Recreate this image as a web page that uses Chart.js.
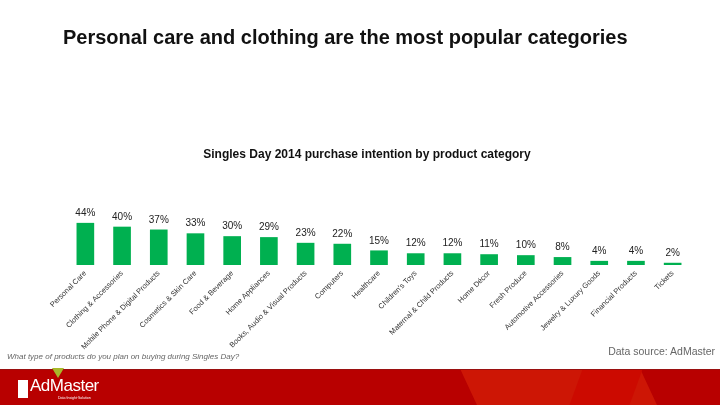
<!DOCTYPE html>
<html>
<head>
<meta charset="utf-8">
<script src="https://cdn.jsdelivr.net/npm/chart.js@4.4.0/dist/chart.umd.min.js"></script>
<style>
    html, body { margin: 0; padding: 0; width: 720px; height: 405px; overflow: hidden; background: #fff; font-family: "Liberation Sans", Arial, sans-serif; }
    #wrap { position: relative; width: 720px; height: 405px; }
    #chart { position: absolute; left: 0; top: 0; }
    .title { position: absolute; left: 63px; top: 26px; font-size: 20px; font-weight: bold; color: #111; }
    .subtitle { position: absolute; left: 0; width: 734px; top: 147px; text-align: center; font-size: 12px; font-weight: bold; color: #111; }
    .question { position: absolute; left: 7px; top: 352px; font-size: 8px; font-style: italic; color: #666; }
    .source { position: absolute; right: 5px; top: 345px; font-size: 10.5px; color: #666; }
    .footer { position: absolute; left: 0; top: 369px; width: 720px; height: 36px; background: #b80000; border-top: 1px solid #9a1010; overflow: hidden; }
    .glow1 { position: absolute; left: 470px; top: -20px; width: 180px; height: 80px; background: #d21c06; transform: skewX(25deg); opacity: 0.8; }
    .glow2 { position: absolute; left: 575px; top: -20px; width: 60px; height: 80px; background: #cc0a00; transform: skewX(-20deg); }
    .logo { position: absolute; left: 18px; top: 380px; width: 10px; height: 18px; background: #fff; }
    .logo-text { position: absolute; left: 30px; top: 376px; font-size: 17px; color: #fff; letter-spacing: -0.5px; }
    .logo-sub { position: absolute; left: 58px; top: 396px; font-size: 3.5px; color: #fff; }
    .vmark { position: absolute; left: 52px; top: 368px; width: 0; height: 0; border-left: 6px solid transparent; border-right: 6px solid transparent; border-top: 10px solid #a8b82a; }
</style>
</head>
<body>
<div id="wrap">
    <canvas id="chart" width="720" height="405"></canvas>
    <div class="title">Personal care and clothing are the most popular categories</div>
    <div class="subtitle">Singles Day 2014 purchase intention by product category</div>
    <div class="question">What type of products do you plan on buying during Singles Day?</div>
    <div class="source">Data source: AdMaster</div>
    <div class="footer"><div class="glow1"></div><div class="glow2"></div></div>
    <div class="vmark"></div>
    <div class="logo"></div>
    <div class="logo-text">AdMaster</div>
    <div class="logo-sub">Data·Insight·Solution</div>
</div>
<script>
// ==================== DATA ====================
const categories = [
    'Personal Care', 'Clothing & Accessories', 'Mobile Phone & Digital Products',
    'Cosmetics & Skin Care', 'Food & Beverage', 'Home Appliances',
    'Books, Audio & Visual Products', 'Computers', 'Healthcare', "Children's Toys",
    'Maternal & Child Products', 'Home Décor', 'Fresh Produce',
    'Automotive Accessories', 'Jewelry & Luxury Goods', 'Financial Products', 'Tickets'
];
const intentionValues = [44, 40, 37, 33, 30, 29, 23, 22, 15, 12, 12, 11, 10, 8, 4, 4, 2];

// ==================== VALUE LABELS ====================
const valueLabels = {
    id: 'valueLabels',
    afterDatasetsDraw(chart) {
        const ctx = chart.ctx;
        const meta = chart.getDatasetMeta(0);
        ctx.save();
        ctx.font = '10px "Liberation Sans", Arial, sans-serif';
        ctx.fillStyle = '#222';
        ctx.textAlign = 'center';
        ctx.textBaseline = 'bottom';
        meta.data.forEach((bar, i) => {
            ctx.fillText(intentionValues[i] + '%', bar.x, bar.y - 5);
        });
        ctx.restore();
    }
};

// ==================== CHART ====================
const ctx = document.getElementById('chart').getContext('2d');
new Chart(ctx, {
    type: 'bar',
    data: {
        labels: categories,
        datasets: [{
            data: intentionValues,
            backgroundColor: '#00b050',
            barThickness: 17
        }]
    },
    options: {
        responsive: false,
        animation: false,
        layout: { padding: { left: 67, right: 29, top: 170, bottom: 0 } },
        plugins: {
            legend: { display: false },
            tooltip: { enabled: false }
        },
        scales: {
            x: {
                grid: { display: false, drawTicks: false },
                border: { display: false },
                ticks: {
                    minRotation: 45,
                    maxRotation: 45,
                    autoSkip: false,
                    padding: 4,
                    color: '#333',
                    font: { size: 7.5, family: '"Liberation Sans", Arial, sans-serif' }
                },
                afterFit: (scale) => { scale.height = 140; }
            },
            y: {
                display: false,
                min: 0,
                max: 100
            }
        }
    },
    plugins: [valueLabels]
});
</script>
</body>
</html>
